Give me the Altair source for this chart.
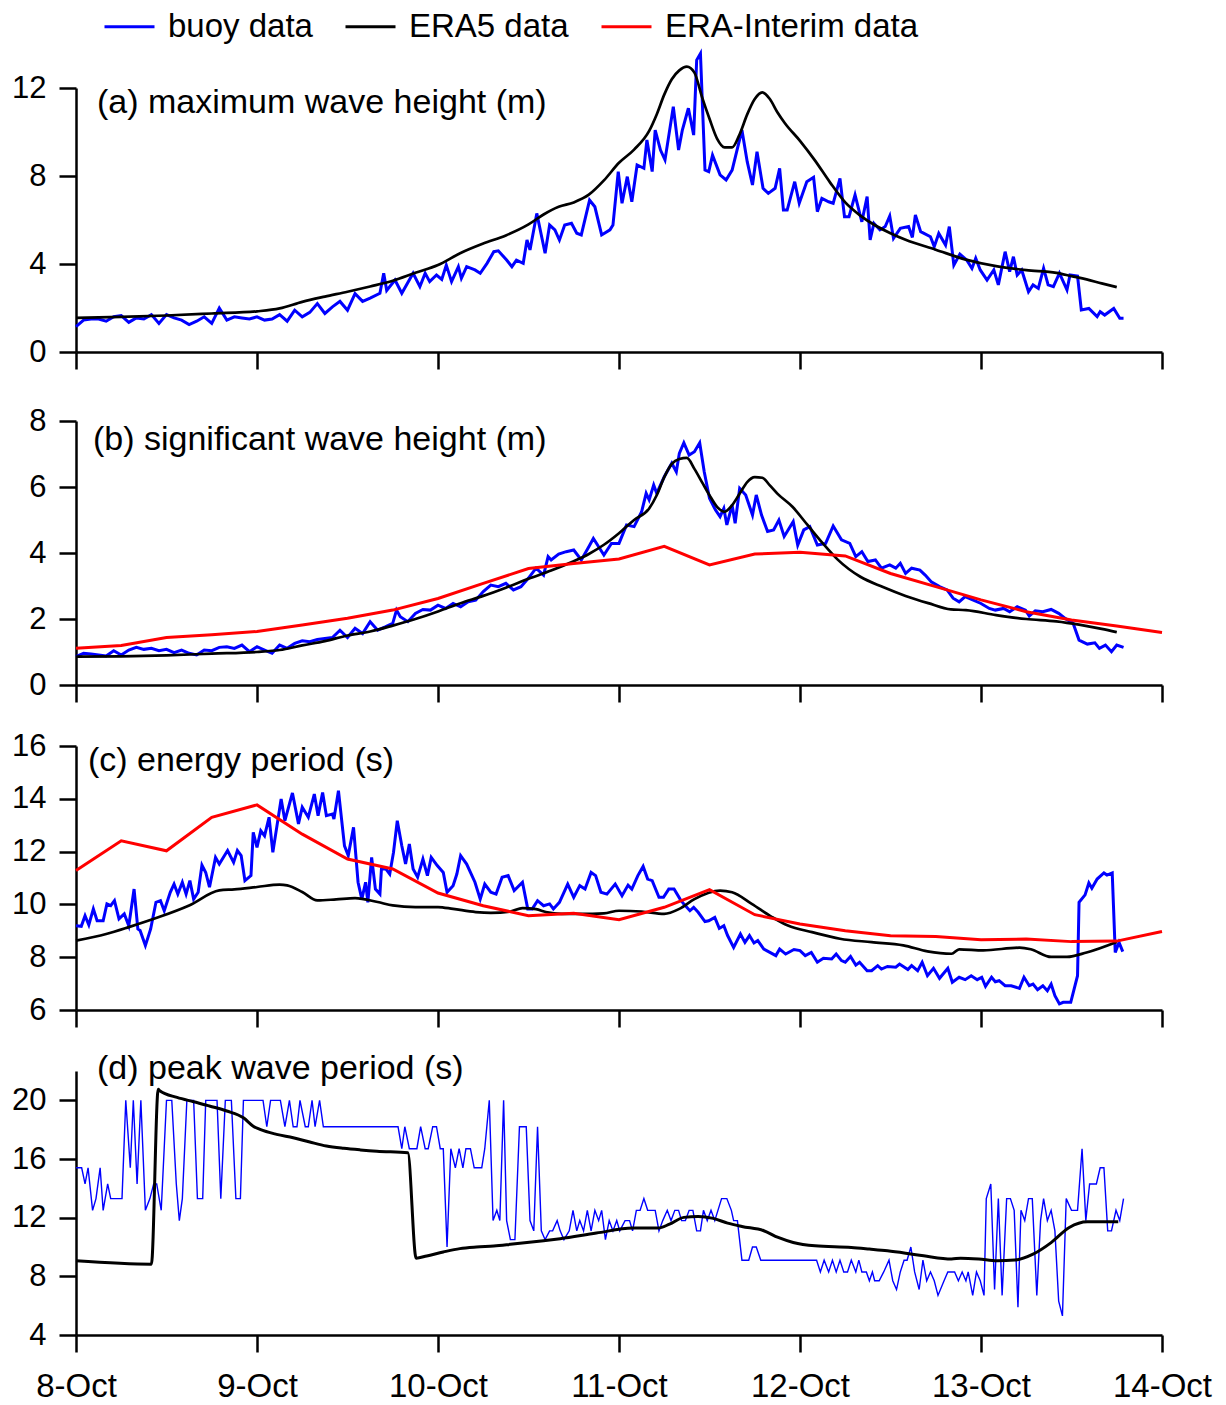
import json
import altair as alt
import pandas as pd

DAY_LABELS = ["8-Oct", "9-Oct", "10-Oct", "11-Oct", "12-Oct", "13-Oct", "14-Oct"]
SERIES = ["buoy data", "ERA5 data", "ERA-Interim data"]
COLORS = ["#0000ff", "#000000", "#ff0000"]
PANEL_TITLES = ["(a) maximum wave height (m)", "(b) significant wave height (m)",
                "(c) energy period (s)", "(d) peak wave period (s)"]

# ---------------- (a) maximum wave height (m); time in hours from 8-Oct 00:00
A_BUOY_HOURLY = [1.15, 1.45, 1.5, 1.5, 1.4, 1.6, 1.65, 1.35, 1.55, 1.5, 1.7, 1.3, 1.7, 1.55, 1.45,
                 1.25, 1.4, 1.6, 1.3, 2.0, 1.45, 1.6, 1.55, 1.5, 1.6, 1.45, 1.5, 1.7, 1.4, 1.9, 1.6,
                 1.8, 2.2, 1.75, 2.05, 2.3, 1.9, 2.65, 2.3, 2.45]
A_BUOY = [(40.3, 2.67), (40.8, 3.58), (41.2, 2.8), (42.3, 3.27), (43.2, 2.67), (44.7, 3.58), (45.6, 2.97),
          (46.3, 3.58), (46.9, 3.2), (47.8, 3.5), (48.5, 3.3), (49.1, 3.95), (49.8, 3.2), (50.7, 3.88),
          (51.1, 3.35), (51.8, 3.88), (52.9, 3.73), (53.6, 3.58), (54.5, 4.03), (55.4, 4.56), (56.0, 4.6),
          (57.1, 4.18), (57.8, 3.88), (58.4, 4.18), (59.3, 4.03), (59.8, 5.09), (60.2, 4.64), (61.1, 6.3),
          (62.2, 4.49), (62.8, 5.77), (63.5, 5.55), (64.1, 5.09), (64.8, 5.77), (65.7, 5.85), (66.4, 5.4),
          (67.0, 5.32), (68.1, 6.9), (68.8, 6.6), (69.7, 5.32), (70.8, 5.55), (71.2, 5.77), (71.9, 8.2),
          (72.4, 6.76), (73.1, 7.97), (73.7, 6.83), (74.4, 8.5), (75.3, 8.35), (75.7, 9.64), (76.4, 8.2),
          (76.8, 10.09), (77.5, 9.18), (78.1, 8.73), (79.2, 11.15), (79.9, 9.18), (80.4, 10.09), (81.2, 11.08),
          (81.9, 9.86), (82.3, 13.27), (82.8, 13.57), (83.4, 8.27), (83.9, 8.2), (84.4, 8.95), (85.4, 8.05),
          (86.2, 7.82), (87.0, 8.27), (88.3, 10.09), (89.0, 8.65), (89.7, 7.59), (90.3, 9.1), (91.1, 7.44),
          (91.8, 7.21), (92.7, 7.44), (93.3, 8.35), (93.8, 6.45), (94.3, 6.45), (95.3, 7.74), (95.9, 6.76),
          (96.9, 7.74), (97.8, 7.94), (98.3, 6.38), (98.9, 6.98), (99.8, 6.83), (100.4, 6.76), (101.3, 7.89),
          (101.9, 6.15), (102.5, 6.15), (103.3, 7.14), (104.2, 5.92), (104.9, 7.06), (105.3, 5.09),
          (105.8, 5.85), (106.6, 5.55), (107.3, 5.7), (107.9, 6.18), (108.4, 5.17), (109.3, 5.62),
          (110.4, 5.7), (110.9, 5.21), (111.3, 6.23), (112.0, 5.47), (113.3, 5.24), (113.8, 4.79),
          (114.4, 5.39), (115.3, 4.86), (115.8, 5.7), (116.4, 3.95), (117.2, 4.45), (118.1, 4.18),
          (118.8, 3.8), (119.3, 4.26), (119.9, 3.73), (120.8, 3.27), (121.7, 3.73), (122.3, 3.05),
          (123.2, 4.56), (123.8, 3.65), (124.3, 4.33), (124.8, 3.5), (125.4, 3.73), (126.3, 2.74),
          (126.9, 3.05), (127.6, 2.89), (128.3, 3.8), (128.9, 3.05), (129.6, 2.97), (130.4, 3.58),
          (131.4, 2.82), (131.8, 3.5), (132.8, 3.45), (133.3, 1.91), (134.3, 1.98), (135.4, 1.61),
          (135.8, 1.83), (136.4, 1.68), (137.6, 1.98), (138.4, 1.53), (138.9, 1.53)]
A_ERA5 = [(0, 1.55), (6, 1.6), (12, 1.66), (18, 1.75), (24, 1.85), (27, 1.98), (30, 2.28), (33, 2.52),
          (36, 2.74), (39, 2.98), (42, 3.24), (45, 3.6), (48, 3.95), (51, 4.5), (54, 4.93), (57, 5.3),
          (60, 5.8), (62, 6.25), (64, 6.6), (66, 6.8), (68, 7.15), (70, 7.8), (72, 8.6), (74, 9.2),
          (76, 10.05), (77, 10.8), (78, 11.7), (79, 12.4), (80, 12.8), (81, 12.97), (82, 12.7), (83, 11.6),
          (84, 10.6), (85, 9.7), (86, 9.3), (87, 9.3), (88, 9.9), (89, 10.8), (90, 11.5), (91, 11.8),
          (92, 11.5), (93, 10.9), (94, 10.4), (96, 9.6), (98, 8.7), (100, 7.7), (102, 6.8), (104, 6.2),
          (106, 5.75), (108, 5.4), (110, 5.1), (114, 4.65), (118, 4.2), (122, 3.9), (126, 3.72),
          (130, 3.6), (132, 3.45), (134, 3.3), (136, 3.12), (138, 2.95)]

# ---------------- (b) significant wave height (m)
B_BUOY_HOURLY = [0.86, 0.96, 0.94, 0.91, 0.88, 1.04, 0.91, 1.06, 1.14, 1.08, 1.11, 1.04, 1.08, 0.98, 1.06,
                 0.96, 0.91, 1.06, 1.04, 1.14, 1.16, 1.11, 1.21, 1.01, 1.16, 1.06, 0.96, 1.21, 1.11, 1.26,
                 1.34, 1.31, 1.38, 1.41, 1.44, 1.66, 1.44, 1.72, 1.56, 1.92, 1.66, 1.76, 1.87]
B_BUOY = [(42.5, 2.27), (43, 2.07), (44, 1.92), (45, 2.17), (46, 2.29), (47, 2.27), (48, 2.42), (49, 2.32),
          (50, 2.47), (51, 2.37), (52, 2.52), (53, 2.57), (54, 2.83), (55, 3.03), (56, 2.98), (57, 3.08),
          (58, 2.88), (59, 2.98), (60, 3.24), (61, 3.54), (62, 3.33), (62.6, 3.89), (63, 3.79), (64, 3.97),
          (65, 4.04), (66, 4.09), (67, 3.79), (68, 4.19), (68.6, 4.44), (70, 3.94), (71, 4.29), (72, 4.29),
          (73, 4.85), (74, 4.8), (75, 5.25), (75.6, 5.81), (76, 5.61), (76.6, 6.06), (77, 5.81), (78, 6.31),
          (79, 6.72), (79.6, 6.46), (80, 7.02), (80.6, 7.34), (81.3, 6.97), (82, 7.07), (82.7, 7.34),
          (83.3, 6.46), (84, 5.66), (84.8, 5.3), (85.4, 5.1), (85.9, 5.35), (86.3, 4.85), (87, 5.45),
          (87.4, 4.9), (88, 5.96), (88.8, 5.76), (89.7, 5.15), (90.2, 5.76), (90.9, 5.15), (91.7, 4.65),
          (92.5, 4.7), (93.2, 5.0), (93.9, 4.5), (95.1, 4.95), (95.7, 4.24), (96.5, 4.7), (97.3, 4.8),
          (98.3, 4.24), (99.4, 4.29), (100.4, 4.82), (101.5, 4.4), (102.6, 4.29), (103.4, 3.89),
          (104.2, 4.04), (105, 3.74), (106, 3.79), (106.8, 3.54), (107.9, 3.64), (108.7, 3.54),
          (109.3, 3.69), (110, 3.38), (110.8, 3.54), (111.9, 3.48), (112.6, 3.33), (113.4, 3.13),
          (114.5, 2.98), (115.5, 2.88), (116.3, 2.63), (117.1, 2.52), (117.9, 2.68), (118.9, 2.58),
          (120, 2.47), (121.1, 2.32), (121.9, 2.27), (123, 2.32), (123.8, 2.22), (124.8, 2.37),
          (125.9, 2.27), (126.4, 2.09), (127.2, 2.25), (128.2, 2.22), (129.3, 2.29), (130.3, 2.17),
          (131.2, 2.01), (132.2, 1.88), (133, 1.36), (134.1, 1.24), (135.1, 1.28), (135.7, 1.11),
          (136.5, 1.21), (137.3, 1.01), (138, 1.21), (138.9, 1.14)]
B_ERA5 = [(0, 0.86), (6, 0.87), (12, 0.9), (18, 0.95), (24, 1.0), (27, 1.06), (30, 1.2), (33, 1.33),
          (36, 1.5), (39, 1.62), (42, 1.8), (45, 2.0), (48, 2.23), (51, 2.48), (54, 2.7), (57, 2.95),
          (60, 3.22), (63, 3.47), (66, 3.75), (68, 3.97), (70, 4.25), (72, 4.6), (74, 5.0), (76, 5.35),
          (77, 5.75), (78, 6.3), (79, 6.7), (80, 6.85), (81, 6.88), (82, 6.55), (83, 6.15), (84, 5.75),
          (85, 5.4), (86, 5.25), (87, 5.45), (88, 5.8), (89, 6.15), (90, 6.3), (91, 6.28), (92, 6.05),
          (93, 5.8), (95, 5.4), (97, 4.85), (99, 4.3), (101, 3.8), (104, 3.28), (107, 2.97), (110, 2.7),
          (113, 2.48), (116, 2.29), (118, 2.27), (122, 2.12), (126, 2.0), (130, 1.93), (133, 1.83),
          (136, 1.7), (138, 1.6)]
B_ERAI = [(0, 1.11), (6, 1.2), (12, 1.44), (18, 1.52), (24, 1.62), (30, 1.82), (36, 2.02), (42, 2.27),
          (48, 2.62), (54, 3.08), (60, 3.53), (66, 3.68), (72, 3.82), (78, 4.2), (84, 3.64), (90, 3.97),
          (96, 4.02), (102, 3.91), (108, 3.38), (114, 2.98), (120, 2.58), (126, 2.22), (132, 1.97),
          (138, 1.79), (144, 1.59)]

# ---------------- (c) energy period (s)
C_BUOY = [(0, 9.19), (0.7, 9.17), (1.2, 9.57), (1.7, 9.22), (2.3, 9.83), (2.8, 9.38), (3.6, 9.38), (4.1, 10.02),
          (4.6, 9.95), (5.1, 10.14), (5.7, 9.45), (6.4, 9.64), (7.0, 9.19), (7.7, 10.58), (8.2, 9.07),
          (8.5, 9.01), (9.2, 8.44), (9.9, 9.07), (10.6, 10.08), (11.2, 10.14), (11.7, 9.76), (12.5, 10.46),
          (13.0, 10.77), (13.5, 10.39), (14.1, 10.84), (14.6, 10.39), (15.1, 10.9), (15.6, 10.2),
          (16.2, 10.46), (16.7, 11.49), (17.2, 11.21), (17.7, 10.65), (18.5, 11.78), (19.0, 11.53),
          (20.1, 12.04), (20.9, 11.59), (21.4, 12.04), (21.9, 11.85), (22.4, 10.9), (23.2, 11.09),
          (23.5, 12.73), (24.0, 12.16), (24.5, 12.79), (25.0, 12.6), (25.6, 13.3), (26.1, 11.97),
          (27.2, 13.99), (27.7, 13.17), (28.7, 14.22), (29.5, 13.05), (30.0, 13.68), (30.8, 13.3),
          (31.6, 14.18), (32.1, 13.36), (32.7, 14.24), (33.2, 13.36), (34.0, 13.42), (34.2, 13.23),
          (34.8, 14.31), (35.6, 12.22), (36.1, 11.85), (36.8, 12.92), (37.4, 10.84), (37.9, 10.2),
          (38.4, 10.84), (38.7, 10.08), (39.2, 11.78), (39.7, 10.58), (40.3, 10.39), (40.5, 11.34),
          (41.1, 11.34), (41.6, 11.15), (42.1, 11.97), (42.6, 13.17), (43.2, 12.22), (43.7, 11.53),
          (44.2, 12.29), (44.7, 11.34), (45.3, 11.03), (46.0, 11.72), (46.6, 11.09), (47.1, 11.78),
          (47.9, 11.47), (48.7, 11.21), (49.2, 10.46), (50.0, 10.71), (50.5, 11.15), (51.0, 11.85),
          (51.8, 11.53), (52.9, 10.84), (53.6, 10.2), (54.2, 10.77), (55.0, 10.46), (55.7, 10.39),
          (56.5, 11.03), (57.3, 11.09), (58.1, 10.52), (59.2, 10.84), (59.9, 9.83), (60.5, 9.83),
          (61.2, 10.14), (62.0, 9.95), (62.8, 10.02), (63.3, 9.83), (64.1, 10.08), (65.2, 10.77),
          (66.0, 10.27), (66.8, 10.71), (67.5, 10.58), (68.3, 11.21), (68.9, 11.09), (69.6, 10.46),
          (70.4, 10.39), (71.5, 10.77), (72.4, 10.33), (73.2, 10.73), (73.7, 10.58), (74.5, 11.09),
          (75.2, 11.44), (75.8, 10.96), (76.4, 10.9), (77.3, 10.27), (77.9, 10.27), (78.6, 10.58),
          (79.3, 10.58), (80.1, 10.2), (80.6, 10.01), (81.4, 9.76), (81.9, 9.89), (82.5, 9.7),
          (83.4, 9.35), (83.9, 9.38), (84.7, 9.51), (85.3, 9.09), (85.9, 9.19), (86.4, 8.82), (87.2, 8.37),
          (88.1, 8.88), (88.7, 8.56), (89.3, 8.82), (89.9, 8.54), (90.4, 8.63), (91.2, 8.31), (92.8, 8.06),
          (93.3, 8.31), (94.1, 8.12), (95.2, 8.29), (96.0, 8.25), (96.7, 8.06), (97.5, 8.18), (98.3, 7.81),
          (99.1, 7.96), (100.2, 7.93), (100.8, 8.12), (101.5, 7.87), (102.0, 7.81), (102.7, 8.03),
          (103.4, 7.7), (103.9, 7.81), (104.9, 7.49), (105.5, 7.49), (106.3, 7.68), (106.8, 7.55),
          (107.6, 7.65), (108.7, 7.62), (109.2, 7.74), (110.3, 7.53), (110.8, 7.68), (111.6, 7.49),
          (112.2, 7.81), (112.9, 7.3), (113.7, 7.58), (114.5, 7.2), (115.6, 7.58), (116.2, 7.05),
          (117.1, 7.24), (117.9, 7.15), (118.7, 7.3), (119.5, 7.15), (120.1, 7.24), (120.6, 6.9),
          (121.4, 7.24), (121.9, 7.07), (122.4, 7.11), (123.2, 6.92), (124.0, 6.92), (125.1, 6.82),
          (125.7, 7.24), (126.4, 6.92), (126.9, 6.98), (127.5, 6.77), (128.2, 6.92), (128.8, 6.73),
          (129.3, 6.98), (129.8, 6.54), (130.4, 6.23), (130.9, 6.29), (131.9, 6.29), (132.8, 7.3),
          (133.0, 10.08), (133.8, 10.36), (134.3, 10.81), (134.7, 10.61), (135.4, 10.96), (136.3, 11.19),
          (136.7, 11.11), (137.4, 11.19), (137.8, 8.18), (138.3, 8.56), (138.8, 8.21)]
C_ERA5 = [(0, 8.63), (4, 8.88), (7, 9.14), (11, 9.52), (15, 9.96), (19, 10.53), (21, 10.57), (24, 10.66),
          (27, 10.75), (28, 10.72), (30, 10.47), (32, 10.15), (34.5, 10.19), (37, 10.24), (40, 10.09),
          (42, 9.96), (45, 9.9), (48, 9.9), (50, 9.83), (53, 9.71), (55, 9.68), (57.6, 9.73), (59.2, 9.86),
          (61, 9.82), (62.3, 9.71), (64.4, 9.64), (67, 9.64), (70, 9.66), (72, 9.76), (75, 9.73), (78, 9.64),
          (80, 9.83), (82, 10.2), (85.4, 10.52), (87, 10.46), (89.6, 10.02), (92.3, 9.52), (94.4, 9.2),
          (97.6, 8.95), (101.3, 8.7), (105.5, 8.57), (109.7, 8.45), (112.9, 8.22), (116.1, 8.13),
          (117.1, 8.3), (120.3, 8.26), (125.1, 8.36), (126.6, 8.3), (129.3, 8.01), (131.4, 8.01),
          (134, 8.18), (138, 8.58)]
C_ERAI = [(0, 11.28), (6, 12.41), (12, 12.03), (18, 13.3), (24, 13.77), (30, 12.66), (36, 11.72), (42, 11.34),
          (48, 10.43), (54, 9.95), (60, 9.57), (66, 9.66), (72, 9.42), (78, 9.89), (84, 10.56), (90, 9.61),
          (96, 9.26), (102, 9.0), (108, 8.81), (114, 8.78), (120, 8.66), (126, 8.69), (132, 8.59),
          (138, 8.61), (144, 8.97)]

# ---------------- (d) peak wave period (s)
D_BUOY = [(0, 15.4), (0.75, 15.4), (1.2, 14.3), (1.6, 15.4), (2.2, 12.5), (2.65, 13.3), (3.2, 15.4), (3.6, 12.5),
          (4.2, 14.3), (4.6, 13.3), (6.1, 13.3), (6.6, 20), (7.2, 15.4), (7.6, 20), (8.1, 14.3), (8.6, 20),
          (9.2, 12.5), (9.8, 13.3), (10.3, 14.3), (10.7, 14.3), (11.3, 12.5), (12.0, 20), (12.7, 20),
          (13.3, 14.3), (13.7, 11.8), (14.1, 13.3), (14.7, 20), (15.6, 20), (16.1, 13.3), (16.8, 13.3),
          (17.2, 20), (18.7, 20), (19.2, 13.3), (19.8, 20), (20.6, 20), (21.2, 13.3), (21.8, 13.3), (22.2, 20),
          (24.8, 20), (25.3, 18.2), (25.8, 20), (27.1, 20), (27.7, 18.2), (28.3, 20), (28.8, 18.2),
          (29.3, 18.2), (29.7, 20), (30.4, 18.2), (30.8, 18.2), (31.3, 20), (31.7, 18.2), (32.3, 20),
          (32.8, 18.2), (42.7, 18.2), (43.2, 16.7), (43.6, 18.2), (44.2, 16.7), (45.2, 16.7), (45.7, 18.2),
          (46.3, 16.7), (46.7, 16.7), (47.3, 18.2), (47.8, 18.2), (48.3, 16.7), (48.7, 16.7), (49.2, 10.0),
          (49.7, 16.7), (50.3, 15.4), (50.8, 16.7), (51.3, 15.4), (51.7, 16.7), (52.3, 16.7), (52.8, 15.4),
          (53.8, 15.4), (54.2, 16.7), (54.8, 20), (55.3, 11.8), (55.8, 12.5), (56.2, 11.8), (56.7, 20),
          (57.1, 11.8), (57.6, 10.5), (58.2, 10.5), (58.8, 18.2), (59.7, 18.2), (60.2, 11.8), (60.7, 11.1),
          (61.2, 18.2), (61.7, 11.1), (62.2, 10.5), (62.8, 11.1), (63.2, 11.1), (63.8, 11.8), (64.2, 11.1),
          (64.7, 10.5), (65.4, 11.1), (65.9, 12.5), (66.4, 11.1), (66.8, 11.8), (67.3, 11.1), (67.8, 12.5),
          (68.3, 11.1), (68.8, 12.5), (69.3, 11.8), (69.7, 12.5), (70.2, 10.5), (70.7, 11.8), (71.2, 11.1),
          (71.7, 11.8), (72.1, 11.1), (72.8, 11.8), (73.4, 11.8), (73.8, 11.1), (74.3, 12.5), (74.8, 12.5),
          (75.3, 13.3), (75.8, 12.5), (76.8, 12.5), (77.3, 11.1), (77.8, 11.8), (78.4, 12.5), (78.9, 11.8),
          (79.4, 12.5), (79.9, 12.5), (80.3, 11.8), (80.8, 11.8), (81.3, 12.5), (81.8, 12.5), (82.3, 11.1),
          (82.8, 11.1), (83.2, 12.5), (83.7, 11.8), (84.2, 12.5), (84.7, 11.8), (85.6, 13.3), (86.3, 13.3),
          (86.9, 12.5), (87.2, 11.8), (87.7, 11.8), (88.3, 9.1), (89.2, 9.1), (89.7, 10.0), (90.2, 10.0),
          (90.8, 9.1), (98.2, 9.1), (98.7, 8.3), (99.2, 9.1), (99.8, 8.3), (100.3, 9.1), (100.8, 8.3),
          (101.3, 9.1), (101.8, 8.3), (102.3, 8.3), (102.8, 9.1), (103.4, 8.3), (103.8, 9.1), (104.2, 8.3),
          (104.8, 8.3), (105.2, 7.7), (105.6, 8.3), (105.9, 7.7), (106.5, 7.7), (107.1, 8.3), (107.8, 9.1),
          (108.3, 7.7), (108.8, 7.1), (109.3, 8.3), (109.8, 9.1), (110.2, 9.1), (110.7, 10.0), (111.2, 8.3),
          (111.8, 7.1), (112.3, 9.1), (112.8, 7.7), (113.3, 8.3), (113.8, 7.7), (114.3, 6.7), (115.1, 7.7),
          (115.6, 8.3), (116.5, 8.3), (117.0, 7.7), (117.5, 8.3), (118.0, 7.7), (118.3, 8.3), (118.9, 6.7),
          (119.4, 8.3), (119.9, 7.7), (120.4, 6.7), (120.7, 13.3), (121.3, 14.3), (121.8, 7.1), (122.3, 13.3),
          (122.8, 6.7), (123.4, 13.3), (123.9, 13.3), (124.4, 12.5), (124.9, 5.9), (125.3, 12.5),
          (125.8, 11.8), (126.3, 13.3), (126.8, 13.3), (127.4, 6.7), (127.9, 11.8), (128.3, 13.3),
          (128.8, 11.8), (129.3, 12.5), (129.8, 11.1), (130.3, 6.3), (130.8, 5.3), (131.3, 13.3),
          (132.0, 12.5), (132.8, 12.5), (133.4, 16.7), (133.9, 11.8), (134.4, 14.3), (135.3, 14.3),
          (135.8, 15.4), (136.3, 15.4), (136.8, 11.1), (137.3, 11.1), (137.9, 12.5), (138.4, 11.8),
          (138.9, 13.3)]
D_ERA5 = [(0, 9.06), (10, 8.83), (10.9, 20.75), (11.1, 20.65), (13.4, 20.2), (15.6, 19.9), (17.8, 19.6),
          (20, 19.27), (22.2, 18.81), (23.5, 18.24), (24.4, 18.02), (26.6, 17.68), (28.8, 17.45), (31, 17.16),
          (33.2, 16.89), (35.5, 16.73), (37.7, 16.62), (39.9, 16.53), (44.0, 16.43), (45.1, 9.24),
          (46.5, 9.39), (48.7, 9.66), (50.9, 9.89), (53.1, 10.0), (55.4, 10.07), (57.6, 10.18), (59.8, 10.3),
          (62, 10.43), (64.2, 10.57), (69, 10.95), (73.8, 11.29), (77.2, 11.29), (78.7, 11.56), (80.6, 12.02),
          (82.5, 12.08), (84.5, 11.95), (86.4, 11.63), (88.3, 11.4), (91.2, 11.11), (93.1, 10.65),
          (95.1, 10.31), (98, 10.08), (102.8, 9.97), (105.2, 9.86), (107.6, 9.74), (110, 9.58), (112.4, 9.4),
          (116.1, 9.18), (117.3, 9.24), (119.7, 9.18), (122.1, 9.06), (124.5, 9.11), (126.9, 9.51),
          (129.3, 10.3), (131.7, 11.33), (134.1, 11.72), (136.6, 11.72), (138.2, 11.72)]

FONT = "Liberation Sans"
X_TICKS = list(range(0, 145, 24))
LABEL_EXPR = json.dumps(DAY_LABELS) + "[round(datum.value / 24)]"


def frame(pairs, name):
    return pd.DataFrame({"hour": [p[0] for p in pairs], "value": [p[1] for p in pairs], "series": name})


def hourly(values):
    return [(i, v) for i, v in enumerate(values)]


color = alt.Color(
    "series:N",
    scale=alt.Scale(domain=SERIES, range=COLORS),
    legend=alt.Legend(title=None, orient="none", legendX=27, legendY=-88, direction="horizontal",
                      symbolType="stroke", symbolSize=2500, symbolStrokeWidth=3,
                      labelFontSize=33, labelFont=FONT, labelColor="black", labelOffset=12,
                      columnPadding=26, labelLimit=0),
)


def panel(lines, ydomain, yticks, title, tdx, tdy, show_labels):
    x = alt.X("hour:Q", scale=alt.Scale(domain=[0, 144], nice=False, zero=False),
              axis=alt.Axis(values=X_TICKS, labels=show_labels, labelExpr=LABEL_EXPR, title=None,
                            labelFontSize=33, labelPadding=18, labelFlush=False, labelOverlap=False))
    y = alt.Y("value:Q", scale=alt.Scale(domain=ydomain, nice=False, zero=False),
              axis=alt.Axis(values=yticks, title=None, labelFontSize=31, labelPadding=13))
    layers = []
    for pairs, name, width, interp in lines:
        layers.append(
            alt.Chart(frame(pairs, name)).mark_line(strokeWidth=width, interpolate=interp, clip=False)
            .encode(x=x, y=y, color=color)
        )
    label = alt.Chart(pd.DataFrame({"label": [title]})).mark_text(
        align="left", baseline="middle", font=FONT, fontSize=34, color="black"
    ).encode(x=alt.value(tdx), y=alt.value(tdy), text="label:N")
    return alt.layer(*layers, label).properties(width=1086, height=264)


pa = panel([(hourly(A_BUOY_HOURLY) + A_BUOY, SERIES[0], 3.0, "linear"),
            (A_ERA5, SERIES[1], 2.7, "monotone")],
           [0, 12], [0, 4, 8, 12], PANEL_TITLES[0], 21, 15, False)
pb = panel([(hourly(B_BUOY_HOURLY) + B_BUOY, SERIES[0], 3.0, "linear"),
            (B_ERA5, SERIES[1], 2.7, "monotone"),
            (B_ERAI, SERIES[2], 3.0, "linear")],
           [0, 8], [0, 2, 4, 6, 8], PANEL_TITLES[1], 17, 19, False)
pc = panel([(C_BUOY, SERIES[0], 3.0, "linear"),
            (C_ERA5, SERIES[1], 2.7, "monotone"),
            (C_ERAI, SERIES[2], 3.0, "linear")],
           [6, 16], [6, 8, 10, 12, 14, 16], PANEL_TITLES[2], 12, 15, False)
pd_ = panel([(D_BUOY, SERIES[0], 1.4, "linear"),
             (D_ERA5, SERIES[1], 3.0, "monotone")],
            [4, 22], [4, 8, 12, 16, 20], PANEL_TITLES[3], 21, -2, True)

lower = alt.vconcat(pb, pc, pd_, spacing=61, bounds="flush")
chart = alt.vconcat(pa, lower, spacing=69, bounds="flush").properties(
    padding={"left": 11, "top": 0, "right": 5, "bottom": 5}
).configure_view(stroke=None).configure_axis(
    domainColor="black", domainWidth=2.5, tickColor="black", tickWidth=2.5, tickSize=17,
    labelColor="black", labelFont=FONT, grid=False
).configure_legend(labelFont=FONT)

chart.save("out.html", embed_options={"renderer": "svg", "actions": False})
